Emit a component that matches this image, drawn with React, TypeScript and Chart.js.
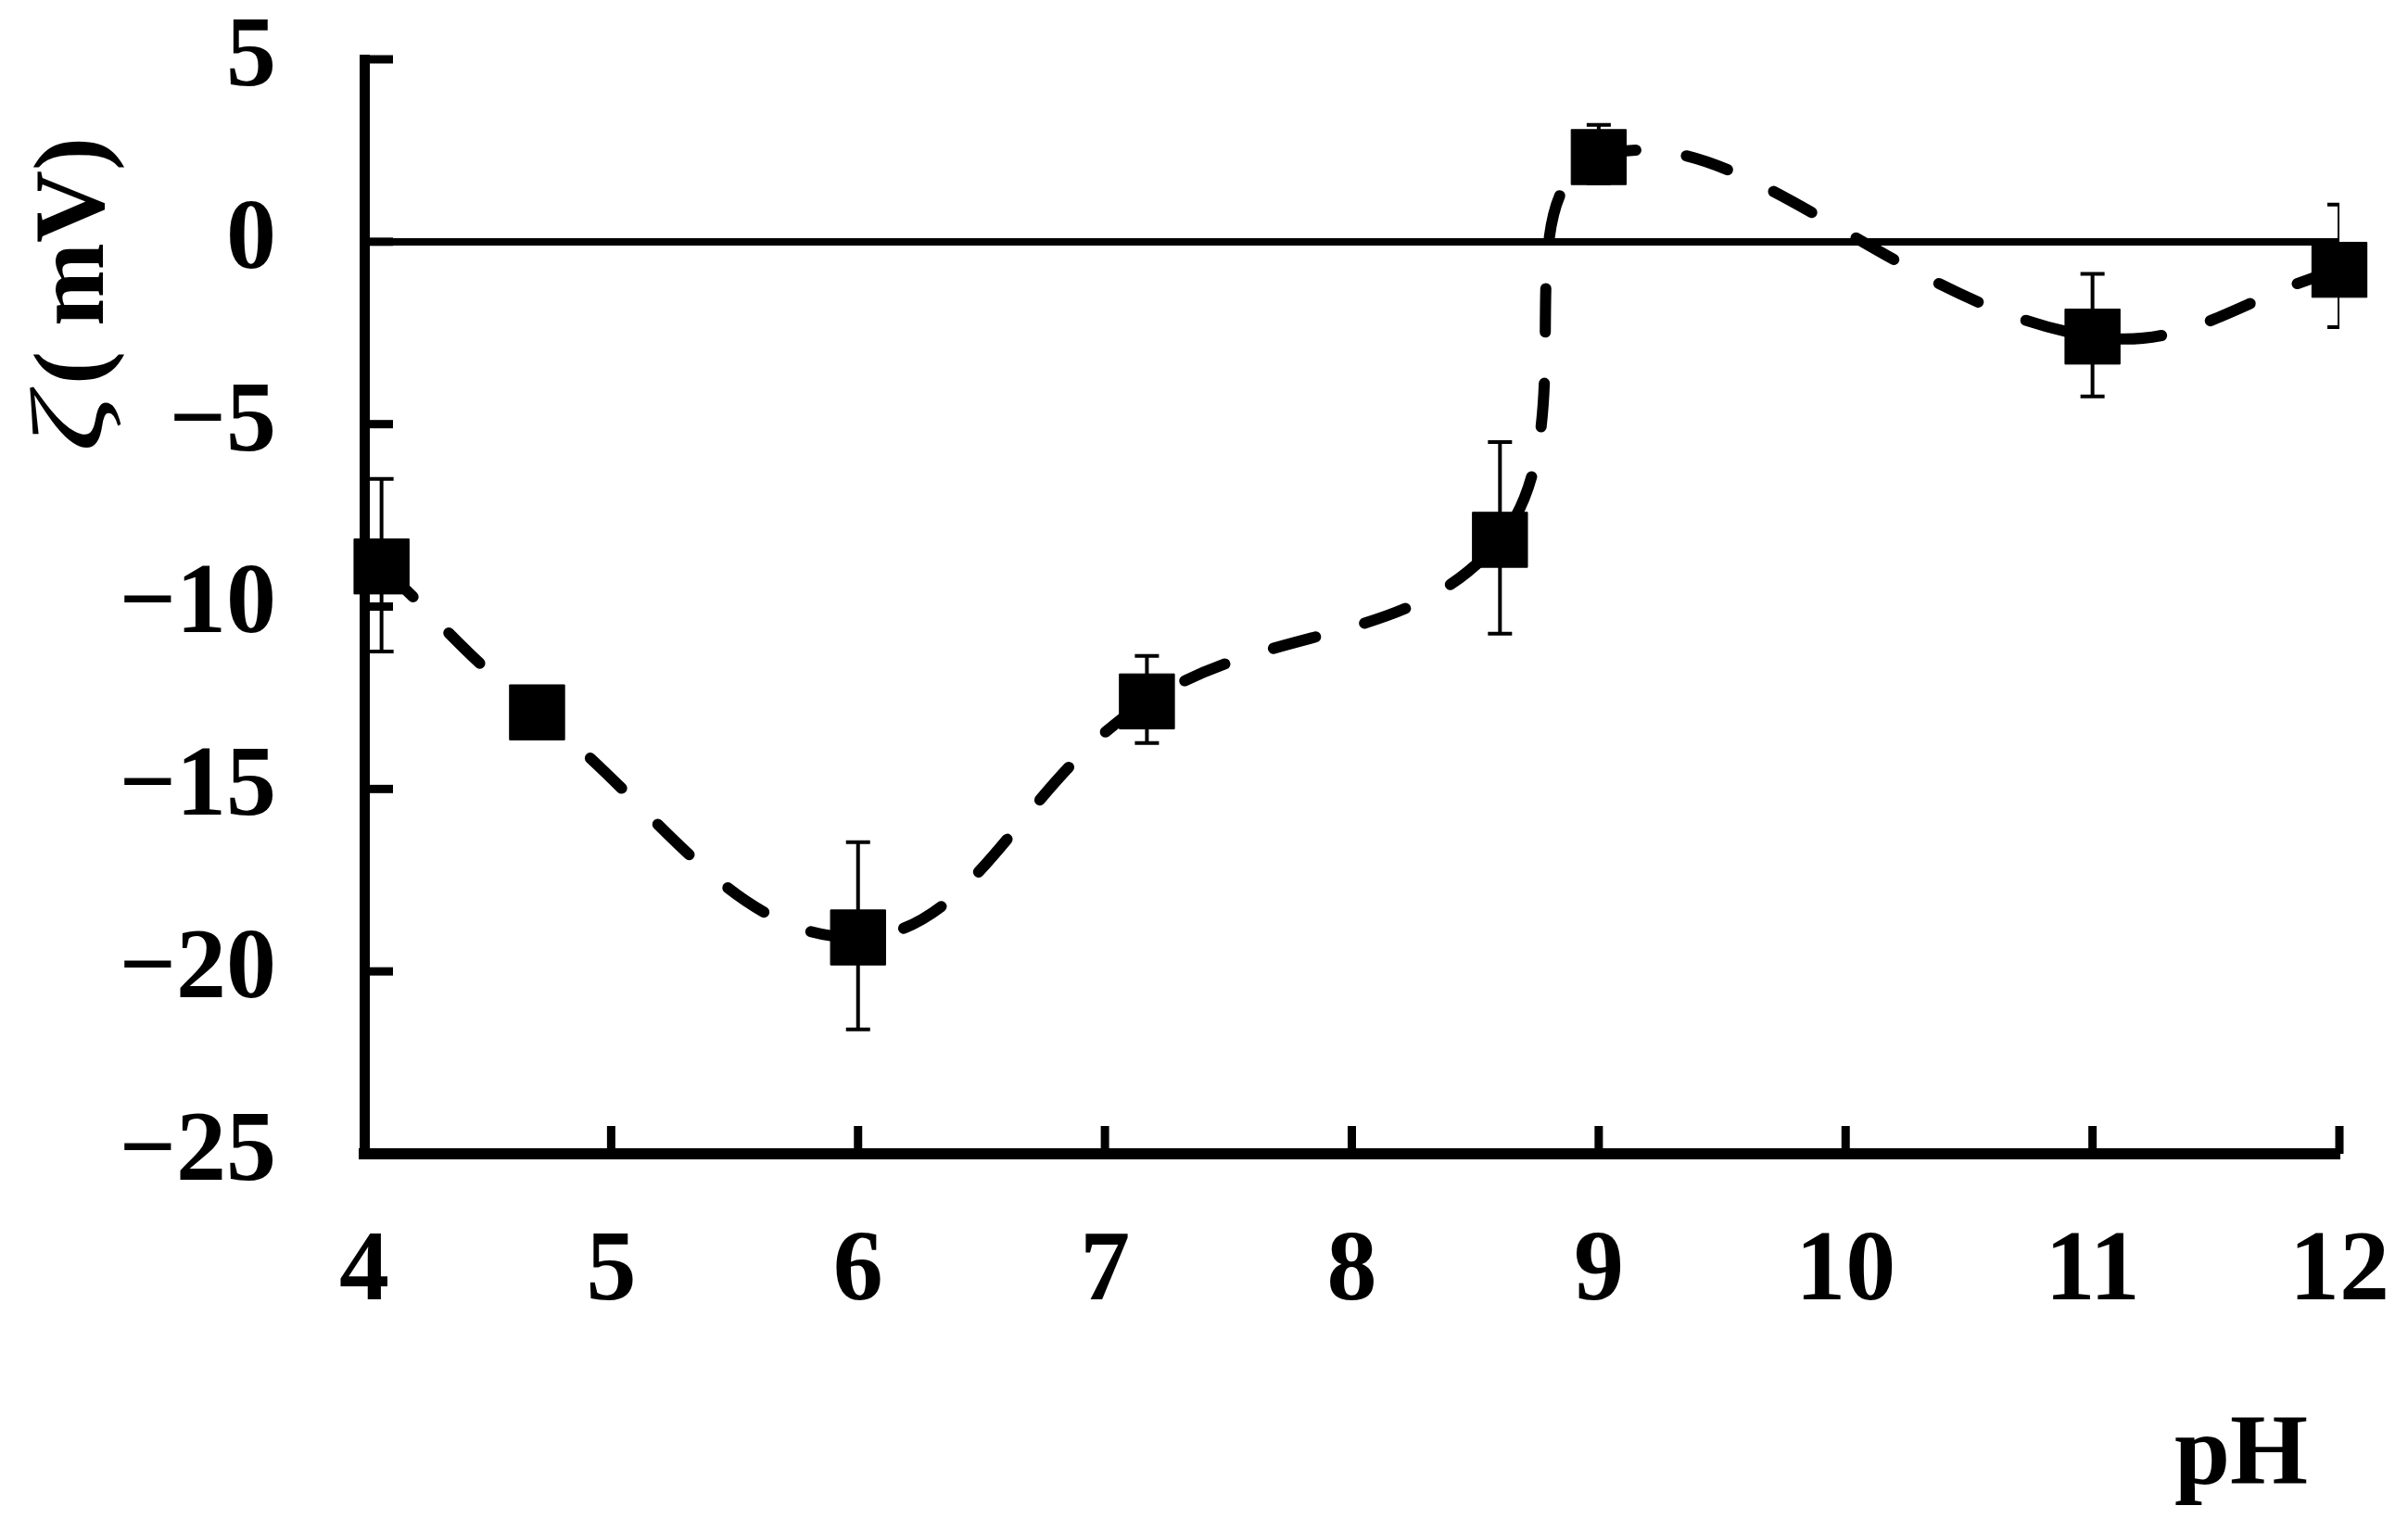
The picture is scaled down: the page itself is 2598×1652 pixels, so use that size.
import React, { useEffect, useRef } from 'react';
import { Chart, registerables } from 'chart.js';

Chart.register(...registerables);

// ---- data ----
const pHValues = [4.07, 4.7, 6.0, 7.17, 8.6, 9.0, 11.0, 12.0];
const zetaValues = [-8.9, -12.9, -19.07, -12.6, -8.17, 2.32, -2.6, -0.77];
const errHigh = [-6.5, -12.3, -16.46, -11.35, -5.49, 3.2, -0.88, 1.02];
const errLow = [-11.23, -13.5, -21.59, -13.74, -10.74, 1.6, -4.24, -2.34];
const xTickValues = [4, 5, 6, 7, 8, 9, 10, 11, 12];
const yTickValues = [-25, -20, -15, -10, -5, 0, 5];
const yTitleSymbol = 'ζ';
const yTitleUnit = '( mV)';
const xTitle = 'pH';

const FAMILY = '"Liberation Serif", "Times New Roman", serif';
const FS = 108;

const fmt = (v: number) => (v < 0 ? '\u2212' + Math.abs(v) : String(v));

const errorBars = {
  id: 'errorBars',
  beforeDatasetsDraw(chart: any) {
    const { ctx, chartArea, scales } = chart;
    const xs = scales.x;
    const ys = scales.y;
    ctx.save();
    ctx.beginPath();
    ctx.rect(chartArea.left, chartArea.top - 20, chartArea.right - chartArea.left, chartArea.bottom - chartArea.top + 20);
    ctx.clip();
    ctx.strokeStyle = '#000';
    ctx.lineWidth = 4;
    ctx.lineCap = 'butt';
    pHValues.forEach((p, i) => {
      const px = xs.getPixelForValue(p);
      const yh = ys.getPixelForValue(errHigh[i]);
      const yl = ys.getPixelForValue(errLow[i]);
      ctx.beginPath();
      ctx.moveTo(px, yh);
      ctx.lineTo(px, yl);
      ctx.moveTo(px - 13, yh);
      ctx.lineTo(px + 13, yh);
      ctx.moveTo(px - 13, yl);
      ctx.lineTo(px + 13, yl);
      ctx.stroke();
    });
    ctx.restore();
  },
};

const innerTicks = {
  id: 'innerTicks',
  beforeDatasetsDraw(chart: any) {
    const { ctx, chartArea, scales } = chart;
    ctx.save();
    ctx.strokeStyle = '#000';
    ctx.lineWidth = 9;
    ctx.lineCap = 'butt';
    yTickValues.forEach((v) => {
      const py = scales.y.getPixelForValue(v);
      ctx.beginPath();
      ctx.moveTo(chartArea.left, py);
      ctx.lineTo(chartArea.left + 31, py);
      ctx.stroke();
    });
    xTickValues.forEach((v) => {
      const px = scales.x.getPixelForValue(v);
      ctx.beginPath();
      ctx.moveTo(px, chartArea.bottom);
      ctx.lineTo(px, chartArea.bottom - 30);
      ctx.stroke();
    });
    ctx.restore();
  },
};

const axisTitles = {
  id: 'axisTitles',
  afterDraw(chart: any) {
    const { ctx, chartArea } = chart;
    ctx.save();
    ctx.fillStyle = '#000';
    // y title, rotated (reads bottom to top)
    ctx.translate(chartArea.left - 282, chartArea.top + 420);
    ctx.rotate(-Math.PI / 2);
    ctx.textBaseline = 'alphabetic';
    ctx.textAlign = 'left';
    // symbol: ink spans local [0, 67]
    ctx.font = `italic 112px ${FAMILY}`;
    const m = ctx.measureText(yTitleSymbol);
    const L = m.actualBoundingBoxLeft || 0;
    const R = m.actualBoundingBoxRight || 50;
    const inkW = L + R;
    const sx = inkW > 0 ? 67 / inkW : 1;
    ctx.save();
    ctx.scale(sx, 1);
    ctx.fillText(yTitleSymbol, L, 0);
    ctx.restore();
    // unit: ink starts at local 73
    ctx.font = `bold ${FS}px ${FAMILY}`;
    const m2 = ctx.measureText(yTitleUnit);
    const L2 = m2.actualBoundingBoxLeft || 0;
    ctx.fillText(yTitleUnit, 73 + L2, 0);
    ctx.restore();

    ctx.save();
    ctx.fillStyle = '#000';
    ctx.font = `bold ${FS}px ${FAMILY}`;
    ctx.textAlign = 'right';
    ctx.textBaseline = 'alphabetic';
    ctx.fillText(xTitle, chartArea.right - 34, chartArea.bottom + 356);
    ctx.restore();
  },
};

export default function App() {
  const ref = useRef<HTMLCanvasElement | null>(null);

  useEffect(() => {
    if (!ref.current) return;
    Chart.defaults.font.family = FAMILY;
    const chart = new Chart(ref.current, {
      type: 'line',
      data: {
        datasets: [
          {
            data: pHValues.map((p, i) => ({ x: p, y: zetaValues[i] })),
            borderColor: '#000',
            borderWidth: 12,
            borderDash: [47, 55],
            borderCapStyle: 'round',
            tension: 0.4,
            fill: false,
            pointStyle: 'rect',
            pointRadius: 42,
            pointHoverRadius: 42,
            pointBackgroundColor: '#000',
            pointBorderColor: '#000',
            pointBorderWidth: 1,
            clip: false as any,
          } as any,
        ],
      },
      options: {
        animation: false,
        responsive: false,
        devicePixelRatio: 1,
        events: [],
        layout: { padding: { top: 64, right: 74, left: 0, bottom: 0 } },
        plugins: { legend: { display: false }, tooltip: { enabled: false } },
        scales: {
          x: {
            type: 'linear',
            min: 4,
            max: 12,
            afterBuildTicks: (s: any) => {
              s.ticks = xTickValues.map((v) => ({ value: v }));
            },
            afterFit: (s: any) => {
              s.height = 407;
              s.paddingLeft = 0;
              s.paddingRight = 0;
              s.paddingTop = 0;
              s.paddingBottom = 0;
            },
            grid: { display: true, drawOnChartArea: false, drawTicks: false },
            border: { display: true, color: '#000', width: 12 },
            ticks: {
              color: '#000',
              font: { size: FS, weight: 'bold', lineHeight: 1 },
              padding: 75,
              maxRotation: 0,
              autoSkip: false,
              callback: (v: any) => fmt(Number(v)),
            },
          },
          y: {
            type: 'linear',
            min: -25,
            max: 5,
            afterBuildTicks: (s: any) => {
              s.ticks = yTickValues.map((v) => ({ value: v }));
            },
            afterFit: (s: any) => {
              s.width = 393;
              s.paddingLeft = 0;
              s.paddingRight = 0;
              s.paddingTop = 0;
              s.paddingBottom = 0;
            },
            grid: {
              display: true,
              drawOnChartArea: true,
              drawTicks: false,
              color: (c: any) => (c.tick && c.tick.value === 0 ? '#000' : 'rgba(0,0,0,0)'),
              lineWidth: (c: any) => (c.tick && c.tick.value === 0 ? 8 : 0),
            },
            border: { display: true, color: '#000', width: 11 },
            ticks: {
              color: '#000',
              font: { size: FS, weight: 'bold', lineHeight: 1 },
              padding: 95,
              autoSkip: false,
              callback: (v: any) => fmt(Number(v)),
            },
          },
        },
      } as any,
      plugins: [errorBars, innerTicks, axisTitles],
    });
    return () => chart.destroy();
  }, []);

  return (
    <div style={{ position: 'absolute', left: 0, top: 0, width: 2598, height: 1652, background: '#fff' }}>
      <canvas ref={ref} width={2598} height={1652} style={{ display: 'block' }} />
    </div>
  );
}
